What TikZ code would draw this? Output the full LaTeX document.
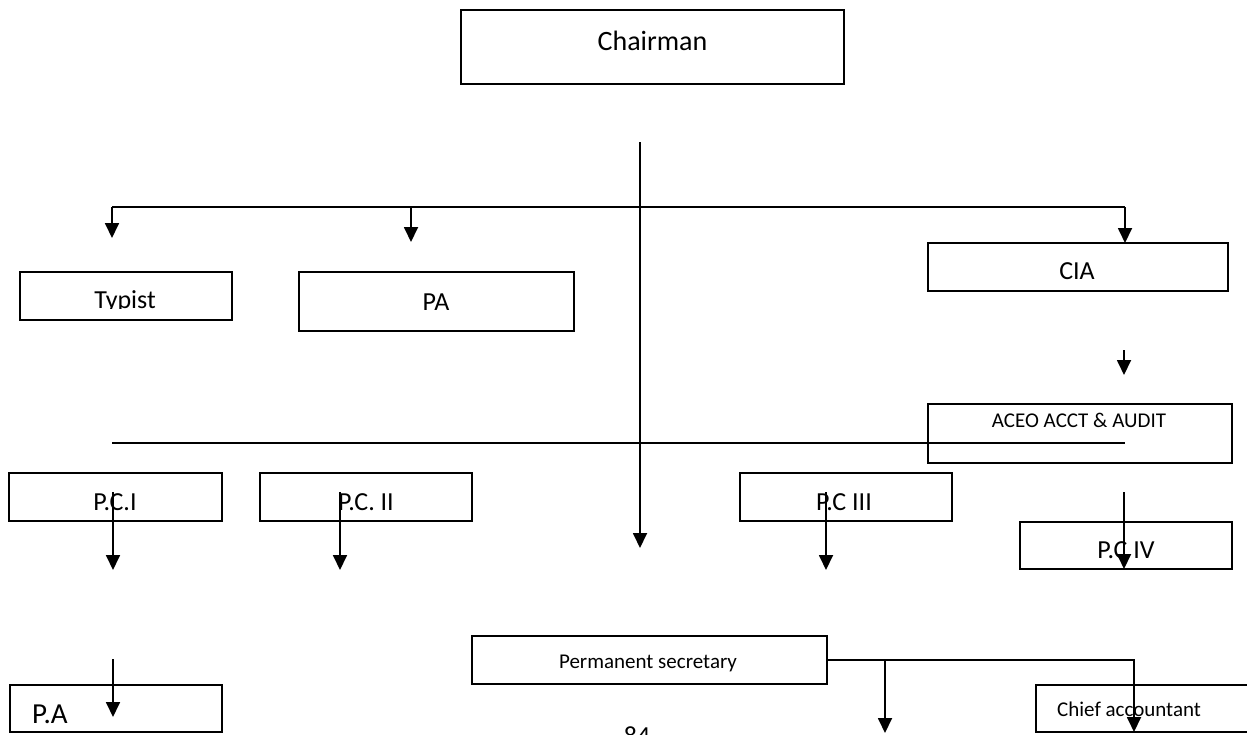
\documentclass[tikz,border=0pt]{standalone}
\usepackage{fontspec}
\setmainfont{Carlito}
\usetikzlibrary{arrows.meta}

\tikzset{
  box/.style={draw, line width=1.5pt, inner sep=0pt, outer sep=0pt},
  lbl/.style={inner sep=0pt, anchor=base},
  wire/.style={line width=1.8pt},
  arr/.style={wire, -{Triangle[width=14pt,length=15pt]}},
}
\newcommand{\fs}[1]{\fontsize{#1}{#1}\selectfont}

\begin{document}
\begin{tikzpicture}[x=1pt, y=-1pt]
  \useasboundingbox (0,0) rectangle (1247,734);
  \clip (0,0) rectangle (1247,734);

  % boxes
  \node[box, minimum width=383pt, minimum height=74pt] (chair)  at (652.5,47)   {};
  \node[box, minimum width=212pt, minimum height=48pt] (typist) at (126,296)    {};
  \node[box, minimum width=275pt, minimum height=59pt] (pa)     at (436.5,301.5) {};
  \node[box, minimum width=300pt, minimum height=48pt] (cia)    at (1078,267)   {};
  \node[box, minimum width=304pt, minimum height=59pt] (aceo)   at (1080,433.5) {};
  \node[box, minimum width=213pt, minimum height=48pt] (pci)    at (115.5,497)  {};
  \node[box, minimum width=212pt, minimum height=48pt] (pcii)   at (366,497)    {};
  \node[box, minimum width=212pt, minimum height=48pt] (pciii)  at (846,497)    {};
  \node[box, minimum width=212pt, minimum height=47pt] (pciv)   at (1126,545.5) {};
  \node[box, minimum width=355pt, minimum height=48pt] (permsec) at (649.5,660) {};
  \node[box, minimum width=234pt, minimum height=47pt] (chief)  at (1153,708.5) {};
  \node[box, minimum width=212pt, minimum height=47pt] (pab)    at (116,708.5)  {};

  % labels
  \node[lbl] (chairT) at (652.5,50) {\fs{28}Chairman};
  \begin{scope}
    \clip (20,272) rectangle (232,308);
    \node[lbl] (typistT) at (125,308) {\fs{26}Typist};
  \end{scope}
  \node[lbl] (paT)     at (436,310)  {\fs{26}PA};
  \node[lbl] (ciaT)    at (1077,279) {\fs{26}CIA};
  \node[lbl] (aceoT)   at (1079,427) {\fs{21}ACEO ACCT \& AUDIT};
  \node[lbl] (pciT)    at (115,510)  {\fs{26}P.C.I};
  \node[lbl] (pciiT)   at (366,510)  {\fs{26}P.C. II};
  \node[lbl] (pciiiT)  at (844,510)  {\fs{26}P.C III};
  \node[lbl] (pcivT)   at (1126,558) {\fs{26}P.C IV};
  \node[lbl] (permT)   at (648,668)  {\fs{21}Permanent secretary};
  \node[lbl, anchor=base west] (chiefT) at (1057,716) {\fs{21}Chief accountant};
  \node[lbl, anchor=base west] (pabT)   at (32,723)   {\fs{29}P.A};
  \node[lbl] (pageno)  at (637,744)  {\fs{26}84};

  % connector end points
  \coordinate (hubTop) at (640,142);
  \coordinate (hubEnd) at (640,548);
  \coordinate (barL)   at (112,207);
  \coordinate (barM)   at (411,207);
  \coordinate (barR)   at (1125,207);
  \coordinate (typTip) at (112,238);
  \coordinate (paTip)  at (411,242);
  \coordinate (ciaA)   at (1124,350);
  \coordinate (ciaB)   at (1124,375);
  \coordinate (midL)   at (112,443);
  \coordinate (midR)   at (1125,443);
  \coordinate (pciA)   at (113,492);
  \coordinate (pciB)   at (113,570);
  \coordinate (pciiA)  at (340,492);
  \coordinate (pciiB)  at (340,570);
  \coordinate (pciiiA) at (826,492);
  \coordinate (pciiiB) at (826,570);
  \coordinate (pcivA)  at (1124,492);
  \coordinate (pcivB)  at (1124,569);
  \coordinate (pabA)   at (113,659);
  \coordinate (pabB)   at (113,717);
  \coordinate (psOut)  at (permsec.east);
  \coordinate (psMid)  at (885,660);
  \coordinate (psMidB) at (885,733);
  \coordinate (psR)    at (1134,660);
  \coordinate (psRB)   at (1134,732);

  % connectors
  \draw[arr] (hubTop) -- (hubEnd);
  \draw[wire] (barL) -- (barR);
  \draw[arr] (barL) -- (typTip);
  \draw[arr] (barM) -- (paTip);
  \draw[arr] (barR) -- (barR |- cia.north);
  \draw[arr] (ciaA) -- (ciaB);
  \draw[wire] (midL) -- (midR);
  \draw[arr] (pciA) -- (pciB);
  \draw[arr] (pciiA) -- (pciiB);
  \draw[arr] (pciiiA) -- (pciiiB);
  \draw[arr] (pcivA) -- (pcivB);
  \draw[arr] (pabA) -- (pabB);
  \draw[arr] (psOut) -- (psR) -- (psRB);
  \draw[arr] (psMid) -- (psMidB);
\end{tikzpicture}
\end{document}
